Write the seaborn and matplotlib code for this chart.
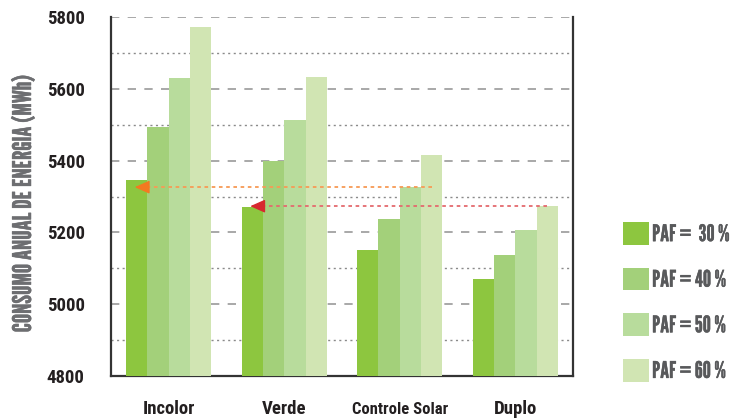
import matplotlib
matplotlib.use("Agg")
import matplotlib.pyplot as plt
import matplotlib.patches as mpatches
import matplotlib.patheffects as pe
from matplotlib.ticker import MultipleLocator
import seaborn as sns
import pandas as pd

categories = ["Incolor", "Verde", "Controle Solar", "Duplo"]
series_labels = ["PAF =  30 %", "PAF = 40 %", "PAF = 50 %", "PAF = 60 %"]
values = {
    "PAF =  30 %": [5345, 5270, 5150, 5069],
    "PAF = 40 %": [5493, 5398, 5236, 5136],
    "PAF = 50 %": [5629, 5512, 5326, 5206],
    "PAF = 60 %": [5771, 5632, 5415, 5273],
}
colors = ["#8dc63f", "#a3d07a", "#b8dc9c", "#d1e5b3"]
y_label = "CONSUMO ANUAL DE ENERGIA (MWh)"

rows = []
for s in series_labels:
    for c, v in zip(categories, values[s]):
        rows.append({"cat": c, "serie": s, "val": v})
df = pd.DataFrame(rows)

sns.set_style("white")
FONT = ["Roboto Condensed", "DejaVu Sans"]
GOTHIC = ["League Gothic", "Roboto Condensed", "DejaVu Sans"]
plt.rcParams["font.family"] = FONT

fig = plt.figure(figsize=(7.37, 4.19), dpi=100)
ax = fig.add_axes([111 / 737, 1 - 376 / 419, (573 - 111) / 737, (376 - 17) / 419])

group_w = 0.736
sns.barplot(data=df, x="cat", y="val", hue="serie", order=categories,
            hue_order=series_labels, palette=colors, width=group_w, gap=0,
            saturation=1, legend=False, ax=ax, zorder=3, linewidth=0)

ax.set_xlim(-0.5, 3.5)
ax.set_ylim(4800, 5800)
ax.yaxis.set_major_locator(MultipleLocator(200))
ax.yaxis.set_minor_locator(MultipleLocator(100))
ax.grid(axis="y", which="major", color="#9a9a9a", linestyle=(0, (5, 5)), linewidth=1.2, zorder=0)
ax.grid(axis="y", which="minor", color="#8a8a8a", linestyle=(0, (1.5, 2.5)), linewidth=1.0, zorder=0)
ax.set_axisbelow(True)

ax.set_xticks([-0.5, 0.5, 1.5, 2.5, 3.5], minor=False)
ax.set_xticklabels([])
ax.tick_params(axis="x", which="major", length=5, width=1.2, color="#333333", direction="out")
ax.tick_params(axis="y", which="major", length=7, width=1.2, color="#9a9a9a", direction="out",
               labelsize=13.5, pad=12)
ax.tick_params(axis="y", which="minor", length=0)
for lab in ax.get_yticklabels():
    lab.set_fontweight("bold")
    lab.set_color("#231f20")

for i, c in enumerate(categories):
    fs = 12 if c == "Controle Solar" else 13.5
    ax.text(i, -0.107, c, transform=ax.get_xaxis_transform(), ha="center", va="baseline",
            fontsize=fs, fontweight="bold", color="#231f20")

ax.set_xlabel("")
ax.set_ylabel("")
fig.text(24 / 737, 1 - 204 / 419, y_label, rotation=90, ha="center", va="center",
         fontsize=18.5, color="#6d6e71", family=GOTHIC,
         path_effects=[pe.withStroke(linewidth=0.35, foreground="#6d6e71")])

for side in ["left", "right", "bottom"]:
    ax.spines[side].set_visible(True)
    ax.spines[side].set_color("#333333")
    ax.spines[side].set_linewidth(1.6)
ax.spines["top"].set_visible(False)

# comparison arrows
n = len(series_labels)
bw = group_w / n
def bar_x(cat_i, s_i, frac=0.5):
    return cat_i - group_w / 2 + bw * (s_i + frac)

arrows = [
    (2, 3, 0, 0, values["PAF = 50 %"][2], "#f47920", "#f79a55"),
    (3, 3, 1, 0, values["PAF = 60 %"][3], "#d7282f", "#e46a6e"),
]
for fc, fs_, tc, ts, yv, col, lcol in arrows:
    x0 = bar_x(fc, fs_, 0.5)
    x1 = bar_x(tc, ts, 0.4)
    ax.plot([x0, x1 + 0.1], [yv, yv], color=lcol, linestyle=(0, (2, 2)), linewidth=1.3, zorder=5)
    ax.annotate("", xy=(x1, yv), xytext=(x1 + 0.12, yv),
                arrowprops=dict(arrowstyle="-|>,head_length=0.9,head_width=0.4",
                                color=col, lw=1.0, shrinkA=0, shrinkB=0), zorder=6)

handles = [mpatches.Patch(facecolor=col, edgecolor="none", label=lab)
           for col, lab in zip(colors, series_labels)]
leg = fig.legend(handles=handles, loc="upper left", bbox_to_anchor=(623 / 737, 1 - 222 / 419),
                 frameon=False, prop={"family": GOTHIC, "size": 16.5},
                 handlelength=1.15, handleheight=1.15, handletextpad=0.12,
                 labelspacing=0.98, borderpad=0, borderaxespad=0)
for t in leg.get_texts():
    t.set_color("#58595b")
    t.set_path_effects([pe.withStroke(linewidth=0.3, foreground="#58595b")])

fig.savefig("out.png", dpi=100)
